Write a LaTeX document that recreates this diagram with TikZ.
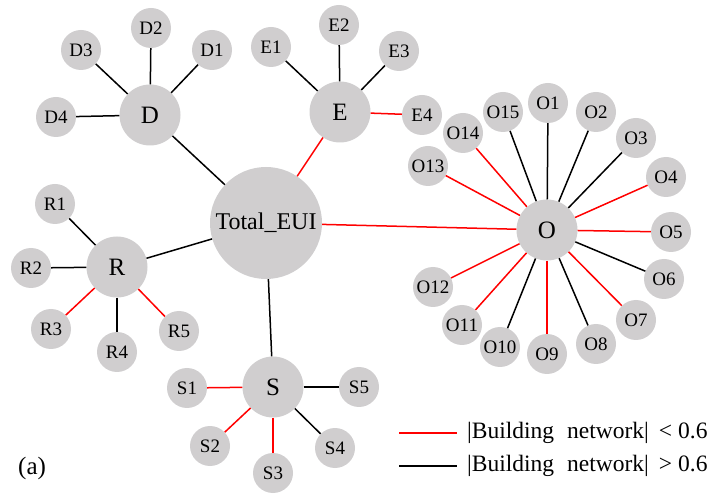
\documentclass[tikz,border=0pt]{standalone}
\usepackage{fontspec}
\setmainfont{Liberation Serif}
\definecolor{ndgray}{RGB}{208,206,207}
\definecolor{lred}{RGB}{255,0,0}
\begin{document}
\begin{tikzpicture}[x=1pt,y=-1pt,
  nd/.style={circle,fill=ndgray,inner sep=0pt,minimum size=40pt,font=\fontsize{19}{19}\selectfont},
  hub/.style={nd,minimum size=61pt,font=\fontsize{25}{25}\selectfont},
  rl/.style={draw=lred,line width=1.5pt},
  bl/.style={draw=black,line width=1.5pt},
  lgd/.style={anchor=west,inner sep=0pt,font=\fontsize{23.5}{23.5}\selectfont}]
\useasboundingbox (0,0) rectangle (718,494);
% nodes
\node[nd,minimum size=112pt,font=\fontsize{24}{24}\selectfont] (T) at (266,223) {Total\_EUI};
\node[hub] (D) at (150,115) {D};
\node[hub] (E) at (340,112) {E};
\node[hub] (O) at (547,230) {O};
\node[hub] (R) at (117,267) {R};
\node[hub] (S) at (273,387) {S};
\node[nd] (D1) at (212,50) {D1};
\node[nd] (D2) at (151,28) {D2};
\node[nd] (D3) at (81,50) {D3};
\node[nd] (D4) at (56,117) {D4};
\node[nd] (E1) at (271,47) {E1};
\node[nd] (E2) at (339,25) {E2};
\node[nd] (E3) at (399,51) {E3};
\node[nd] (E4) at (422,115) {E4};
\node[nd] (O1) at (548,103) {O1};
\node[nd] (O2) at (596,112) {O2};
\node[nd] (O3) at (636,138) {O3};
\node[nd] (O4) at (666,177) {O4};
\node[nd] (O5) at (671,232) {O5};
\node[nd] (O6) at (664,279) {O6};
\node[nd] (O7) at (636,320) {O7};
\node[nd] (O8) at (596,344) {O8};
\node[nd] (O9) at (547,354) {O9};
\node[nd] (O10) at (500,347) {O10};
\node[nd] (O11) at (462,325) {O11};
\node[nd] (O12) at (433,287) {O12};
\node[nd] (O13) at (428,166) {O13};
\node[nd] (O14) at (463,133) {O14};
\node[nd] (O15) at (503,112) {O15};
\node[nd] (R1) at (55,204) {R1};
\node[nd] (R2) at (31,268) {R2};
\node[nd] (R3) at (51,329) {R3};
\node[nd] (R4) at (117,352) {R4};
\node[nd] (R5) at (179,331) {R5};
\node[nd] (S1) at (187,388) {S1};
\node[nd] (S2) at (210,446) {S2};
\node[nd] (S3) at (273,473) {S3};
\node[nd] (S4) at (335,448) {S4};
\node[nd] (S5) at (359,387) {S5};
% edges
\draw[bl] (T) -- (D);
\draw[rl] (T) -- (E);
\draw[rl] (T) -- (O);
\draw[bl] (T) -- (R);
\draw[bl] (T) -- (S);
\draw[bl] (D) -- (D1);
\draw[bl] (D) -- (D2);
\draw[bl] (D) -- (D3);
\draw[bl] (D) -- (D4);
\draw[bl] (E) -- (E1);
\draw[bl] (E) -- (E2);
\draw[bl] (E) -- (E3);
\draw[rl] (E) -- (E4);
\draw[bl] (O) -- (O1);
\draw[bl] (O) -- (O2);
\draw[bl] (O) -- (O3);
\draw[rl] (O) -- (O4);
\draw[rl] (O) -- (O5);
\draw[bl] (O) -- (O6);
\draw[rl] (O) -- (O7);
\draw[bl] (O) -- (O8);
\draw[rl] (O) -- (O9);
\draw[bl] (O) -- (O10);
\draw[rl] (O) -- (O11);
\draw[rl] (O) -- (O12);
\draw[rl] (O) -- (O13);
\draw[rl] (O) -- (O14);
\draw[bl] (O) -- (O15);
\draw[bl] (R) -- (R1);
\draw[bl] (R) -- (R2);
\draw[rl] (R) -- (R3);
\draw[bl] (R) -- (R4);
\draw[rl] (R) -- (R5);
\draw[rl] (S) -- (S1);
\draw[rl] (S) -- (S2);
\draw[rl] (S) -- (S3);
\draw[bl] (S) -- (S4);
\draw[bl] (S) -- (S5);
% legend
\coordinate (la1) at (399,433);
\coordinate (la2) at (457,433);
\coordinate (lb1) at (399,466);
\coordinate (lb2) at (457,466);
\draw[rl] (la1) -- (la2);
\draw[bl] (lb1) -- (lb2);
\node[lgd] (lt1) at (467,433) {|Building\hspace{13pt}network|\hspace{10pt}<\hspace{6pt}0.6};
\node[lgd] (lt2) at (467,466) {|Building\hspace{13pt}network|\hspace{10pt}>\hspace{6pt}0.6};
\node[anchor=west,inner sep=0pt,font=\fontsize{25}{25}\selectfont] (lab) at (18,468) {(a)};
\end{tikzpicture}
\end{document}
